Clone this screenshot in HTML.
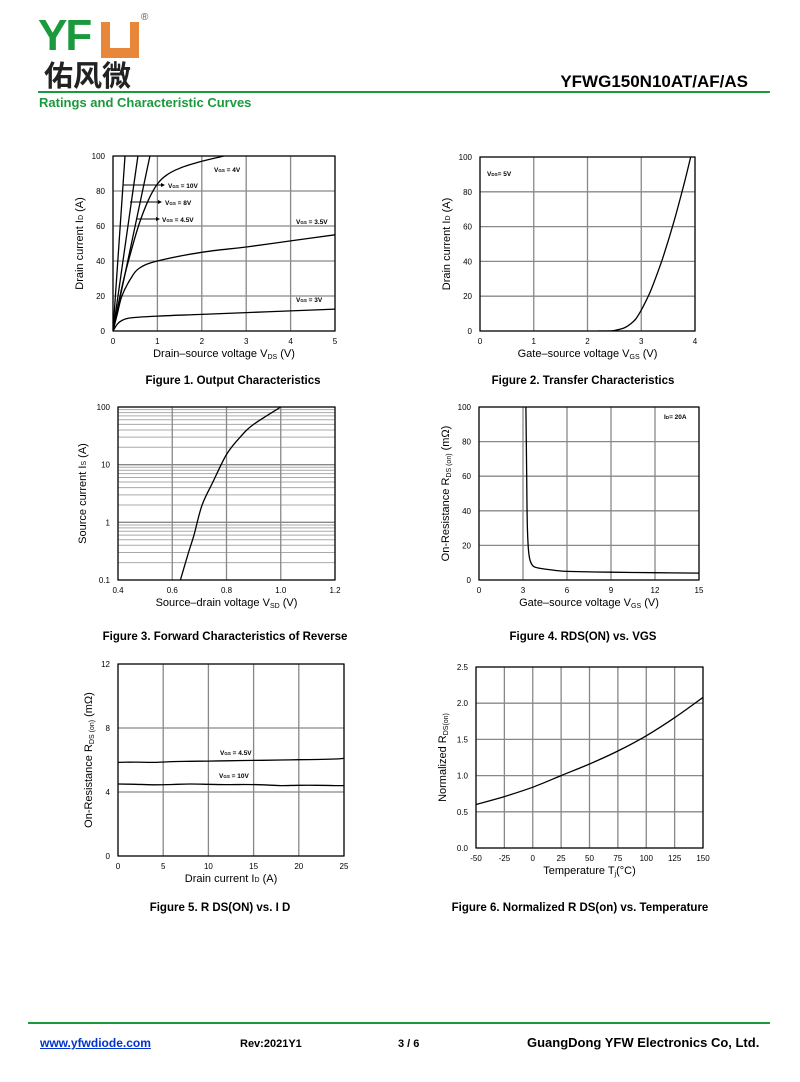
<!DOCTYPE html>
<html><head><meta charset="utf-8">
<style>
body{margin:0;width:800px;height:1082px;background:#fff;position:relative;font-family:"Liberation Sans","Noto Sans CJK SC",sans-serif;overflow:hidden}
.abs{position:absolute}
.cap{position:absolute;font-weight:bold;font-size:11.5px;color:#000;transform:translateX(-50%);white-space:nowrap}
svg text{font-family:"Liberation Sans",sans-serif}
</style></head><body>
<div class="abs" style="left:38px;top:8px;width:120px;height:80px">
  <div class="abs" style="left:0;top:6px;font-size:44px;font-weight:bold;color:#1a9a3c;letter-spacing:-2px;line-height:44px">YF</div>
  <div class="abs" style="left:63px;top:14px;width:38px;height:36px;background:#e8863a"></div>
  <div class="abs" style="left:72px;top:14px;width:20px;height:26px;background:#fff"></div>
  <div class="abs" style="left:103px;top:4px;font-size:10px;color:#555">®</div>
  <div class="abs" style="left:6px;top:50px;font-size:29px;font-weight:bold;color:#222;line-height:32px;font-family:'Noto Sans CJK SC',sans-serif">佑风微</div>
</div>
<div class="abs" style="right:52px;top:72px;font-size:17px;font-weight:bold">YFWG150N10AT/AF/AS</div>
<div class="abs" style="left:38px;top:91px;width:732px;height:2px;background:#1a9a3c"></div>
<div class="abs" style="left:39px;top:95px;font-size:13px;font-weight:bold;color:#1a9a3c">Ratings and Characteristic Curves</div>

<svg id="charts" class="abs" style="left:0;top:0" width="800" height="1010"></svg>

<div class="cap" style="left:233px;top:375px">Figure 1. Output Characteristics</div>
<div class="cap" style="left:583px;top:375px">Figure 2. Transfer Characteristics</div>
<div class="cap" style="left:225px;top:631px">Figure 3. Forward Characteristics of Reverse</div>
<div class="cap" style="left:583px;top:631px">Figure 4. RDS(ON) vs. VGS</div>
<div class="cap" style="left:220px;top:902px">Figure 5. R DS(ON) vs. I D</div>
<div class="cap" style="left:580px;top:902px">Figure 6. Normalized R DS(on) vs. Temperature</div>

<div class="abs" style="left:28px;top:1022px;width:742px;height:2px;background:#1a9a3c"></div>
<a class="abs" style="left:40px;top:1036px;font-size:12px;font-weight:bold;color:#0033cc;text-decoration:underline">www.yfwdiode.com</a>
<div class="abs" style="left:240px;top:1038px;font-size:11px;font-weight:bold">Rev:2021Y1</div>
<div class="abs" style="left:398px;top:1038px;font-size:11px;font-weight:bold">3 / 6</div>
<div class="abs" style="left:527px;top:1035px;font-size:13px;font-weight:bold">GuangDong YFW Electronics Co, Ltd.</div>

<script>
// Fig1 data
const f1Vgs3x=[0,0.1,0.2,0.4,1,2,3,4,5], f1Vgs3y=[0,4,6,7.5,8.5,9.5,10.5,11.5,12.5];
const f1Vgs35x=[0,0.1,0.2,0.4,0.6,1,2,3,4,5], f1Vgs35y=[0,10,20,30,36,40,45,48,51.5,55];
const f1Vgs4x=[0,0.2,0.4,0.6,0.8,1,1.2,1.5,2,2.5], f1Vgs4y=[0,25,45,62,75,84,89,93,97,100];
const f1Vgs45x=[0,0.83], f1Vgs45y=[0,100];
const f1Vgs8x=[0,0.56], f1Vgs8y=[0,100];
const f1Vgs10x=[0,0.27], f1Vgs10y=[0,100];
const f1XTicks=[0,1,2,3,4,5], f1YTicks=[0,20,40,60,80,100];
// Fig2
const f2x=[2.2,2.4,2.5,2.6,2.7,2.8,2.9,3,3.1,3.2,3.4,3.6,3.8,3.92], f2y=[0,0,0.3,1,2,4,7,12,18,25,42,62,85,100];
const f2XTicks=[0,1,2,3,4], f2YTicks=[0,20,40,60,80,100];
// Fig3
const f3x=[0.63,0.66,0.68,0.71,0.75,0.8,0.85,0.9,1.0], f3y=[0.1,0.3,0.6,2,5,15,30,50,100];
const f3XTicks=[0.4,0.6,0.8,1.0,1.2], f3XLabels=["0.4","0.6","0.8","1.0","1.2"], f3YTicks=[0.1,1,10,100];
// Fig4
const f4x=[3.2,3.25,3.3,3.4,3.6,4,5,6,9,12,15], f4y=[100,60,30,15,9,7,5.8,5,4.5,4.2,4];
const f4XTicks=[0,3,6,9,12,15], f4YTicks=[0,20,40,60,80,100];
// Fig5
const f5Vgs45x=[0,2,4,6,8,10,12,14,16,18,20,22,24,25], f5Vgs45y=[5.85,5.87,5.85,5.9,5.92,5.93,5.95,5.97,5.98,6.0,6.02,6.03,6.06,6.1];
const f5Vgs10x=[0,2,4,6,8,10,12,14,16,18,20,22,24,25], f5Vgs10y=[4.5,4.48,4.45,4.47,4.5,4.48,4.46,4.47,4.45,4.4,4.42,4.42,4.4,4.4];
const f5XTicks=[0,5,10,15,20,25], f5YTicks=[0,4,8,12];
// Fig6
const f6x=[-50,-25,0,25,50,75,100,125,150], f6y=[0.6,0.71,0.84,1.0,1.16,1.34,1.55,1.8,2.08];
const f6XTicks=[-50,-25,0,25,50,75,100,125,150], f6YTicks=[0,0.5,1,1.5,2,2.5], f6YLabels=["0.0","0.5","1.0","1.5","2.0","2.5"];

const NS="http://www.w3.org/2000/svg";
const svg=document.getElementById('charts');
function mk(tag,attrs,parent){const e=document.createElementNS(NS,tag);for(const k in attrs)e.setAttribute(k,attrs[k]);(parent||svg).appendChild(e);return e;}
function spline(P){
  if(P.length<3) return P.map((p,i)=>(i?'L':'M')+p[0].toFixed(1)+' '+p[1].toFixed(1)).join(' ');
  let d='M'+P[0][0].toFixed(1)+' '+P[0][1].toFixed(1);
  for(let i=0;i<P.length-1;i++){
    const p0=P[i-1]||P[i],p1=P[i],p2=P[i+1],p3=P[i+2]||p2;
    const c1=[p1[0]+(p2[0]-p0[0])/6,p1[1]+(p2[1]-p0[1])/6],c2=[p2[0]-(p3[0]-p1[0])/6,p2[1]-(p3[1]-p1[1])/6];
    d+=` C${c1[0].toFixed(1)} ${c1[1].toFixed(1)} ${c2[0].toFixed(1)} ${c2[1].toFixed(1)} ${p2[0].toFixed(1)} ${p2[1].toFixed(1)}`;
  }
  return d;
}

function chart(o){
  const g=mk('g',{});
  
  
  const log=o.log;
  const sx=v=>o.x0+(v-o.xmin)/(o.xmax-o.xmin)*(o.x1-o.x0);
  const sy=v=>log? o.y1-(Math.log10(v)-Math.log10(o.ymin))/(Math.log10(o.ymax)-Math.log10(o.ymin))*(o.y1-o.y0)
                 : o.y1-(v-o.ymin)/(o.ymax-o.ymin)*(o.y1-o.y0);
  if(log){for(let d=o.ymin;d<o.ymax;d*=10)for(let m=2;m<10;m++){const l=mk('line',{x1:o.x0,x2:o.x1,y1:sy(d*m),y2:sy(d*m),stroke:'#aaa','stroke-width':1},g);}}
  o.yTicks.forEach(v=>{const l=mk('line',{x1:o.x0,x2:o.x1,y1:sy(v),y2:sy(v),stroke:'#888','stroke-width':1.3},g);});
  o.xTicks.forEach(v=>{const l=mk('line',{x1:sx(v),x2:sx(v),y1:o.y0,y2:o.y1,stroke:'#888','stroke-width':1.3},g);});
  const fr=mk('rect',{x:o.x0,y:o.y0,width:o.x1-o.x0,height:o.y1-o.y0,fill:'none',stroke:'#000','stroke-width':1.2},g);
  
  o.xTicks.forEach((v,i)=>{const t=mk('text',{x:sx(v),y:o.y1+13,'font-size':8,'text-anchor':'middle'},g);t.textContent=o.xLabels?o.xLabels[i]:v;});
  o.yTicks.forEach((v,i)=>{const t=mk('text',{x:o.x0-(o.ylOff||8),y:sy(v)+3,'font-size':8,'text-anchor':'end'},g);t.textContent=o.yLabels?o.yLabels[i]:v;});
  const xt=mk('text',{x:(o.x0+o.x1)/2,y:o.y1+26,'font-size':11,'text-anchor':'middle'},g);xt.innerHTML=o.xTitle;
  
  const cy=(o.y0+o.y1)/2, cx=o.x0-(o.ytOff||30);
  const yt=mk('text',{x:cx,y:cy,'font-size':11,'text-anchor':'middle',transform:`rotate(-90 ${cx} ${cy})`},g);yt.innerHTML=o.yTitle;
  
  const clip='c'+o.name;
  const cp=mk('clipPath',{id:clip},g);mk('rect',{x:o.x0,y:o.y0,width:o.x1-o.x0,height:o.y1-o.y0},cp);
  o.series.forEach(s=>{
    const P=s.x.map((v,i)=>[sx(v),sy(s.y[i])]);
    const p=mk('path',{d:spline(P),fill:'none',stroke:'#000','stroke-width':1.3,'clip-path':`url(#${clip})`,'stroke-linejoin':'round'},g);
    
  });
  (o.labels||[]).forEach(L=>{const t=mk('text',{x:L[0],y:L[1],'font-size':6.5,'font-weight':'bold'},g);t.innerHTML=L[2];});
  return g;
}
const VGS='V<tspan font-size="4.5">GS</tspan>';
chart({name:'fig1-output-chart',x0:113,x1:335,y0:156,y1:331,xmin:0,xmax:5,ymin:0,ymax:100,xTicks:f1XTicks,yTicks:f1YTicks,
  xTitle:'Drain–source voltage V<tspan font-size="7" dy="2">DS</tspan><tspan dy="-2"> (V)</tspan>',yTitle:'Drain current I<tspan font-size="7">D</tspan> (A)',
  series:[{name:'vgs-3v-line',x:f1Vgs3x,y:f1Vgs3y},{name:'vgs-3-5v-line',x:f1Vgs35x,y:f1Vgs35y},{name:'vgs-4v-line',x:f1Vgs4x,y:f1Vgs4y},
          {name:'vgs-4-5v-line',x:f1Vgs45x,y:f1Vgs45y},{name:'vgs-8v-line',x:f1Vgs8x,y:f1Vgs8y},{name:'vgs-10v-line',x:f1Vgs10x,y:f1Vgs10y}],
  labels:[[214,172,VGS+' = 4V'],[168,188,VGS+' = 10V'],[165,205,VGS+' = 8V'],[162,222,VGS+' = 4.5V'],[296,224,VGS+' = 3.5V'],[296,302,VGS+' = 3V']]});
[[123,185,165],[130,202,162],[136,219,160]].forEach(a=>{
  const l=mk('line',{x1:a[0],y1:a[1],x2:a[2]-3,y2:a[1],stroke:'#000','stroke-width':1});
  
  const h=mk('path',{d:`M${a[2]} ${a[1]} l-4 -2 v4z`,fill:'#000'});
  
});
chart({name:'fig2-transfer-chart',x0:480,x1:695,y0:157,y1:331,xmin:0,xmax:4,ymin:0,ymax:100,xTicks:f2XTicks,yTicks:f2YTicks,
  xTitle:'Gate–source voltage V<tspan font-size="7" dy="2">GS</tspan><tspan dy="-2"> (V)</tspan>',yTitle:'Drain current I<tspan font-size="7">D</tspan> (A)',
  series:[{name:'transfer-curve',x:f2x,y:f2y}],labels:[[487,176,'V<tspan font-size="4.5">DS</tspan>= 5V']]});
chart({name:'fig3-forward-chart',x0:118,x1:335,y0:407,y1:580,xmin:0.4,xmax:1.2,ymin:0.1,ymax:100,log:true,xTicks:f3XTicks,xLabels:f3XLabels,yTicks:f3YTicks,
  xTitle:'Source–drain voltage V<tspan font-size="7" dy="2">SD</tspan><tspan dy="-2"> (V)</tspan>',yTitle:'Source current I<tspan font-size="7">S</tspan> (A)',ytOff:32,
  series:[{name:'forward-curve',x:f3x,y:f3y}]});
chart({name:'fig4-rdson-vgs-chart',x0:479,x1:699,y0:407,y1:580,xmin:0,xmax:15,ymin:0,ymax:100,xTicks:f4XTicks,yTicks:f4YTicks,
  xTitle:'Gate–source voltage V<tspan font-size="7" dy="2">GS</tspan><tspan dy="-2"> (V)</tspan>',yTitle:'On-Resistance R<tspan font-size="7" dy="2">DS (on)</tspan><tspan dy="-2"> (mΩ)</tspan>',ytOff:30,
  series:[{name:'rdson-curve',x:f4x,y:f4y}],labels:[[664,419,'I<tspan font-size="4.5">D</tspan>= 20A']]});
chart({name:'fig5-rdson-id-chart',x0:118,x1:344,y0:664,y1:856,xmin:0,xmax:25,ymin:0,ymax:12,xTicks:f5XTicks,yTicks:f5YTicks,
  xTitle:'Drain current I<tspan font-size="7">D</tspan> (A)',yTitle:'On-Resistance R<tspan font-size="7" dy="2">DS (on)</tspan><tspan dy="-2"> (mΩ)</tspan>',ytOff:26,
  series:[{name:'vgs-4-5v-line',x:f5Vgs45x,y:f5Vgs45y},{name:'vgs-10v-line',x:f5Vgs10x,y:f5Vgs10y}],
  labels:[[220,755,VGS+' = 4.5V'],[219,778,VGS+' = 10V']]});
chart({name:'fig6-normalized-rdson-chart',x0:476,x1:703,y0:667,y1:848,xmin:-50,xmax:150,ymin:0,ymax:2.5,xTicks:f6XTicks,yTicks:f6YTicks,yLabels:f6YLabels,
  xTitle:'Temperature T<tspan font-size="7" dy="2">j</tspan><tspan dy="-2">(°C)</tspan>',yTitle:'Normalized R<tspan font-size="7" dy="2">DS(on)</tspan>',ytOff:30,
  series:[{name:'normalized-curve',x:f6x,y:f6y}]});
</script>
</body></html>
